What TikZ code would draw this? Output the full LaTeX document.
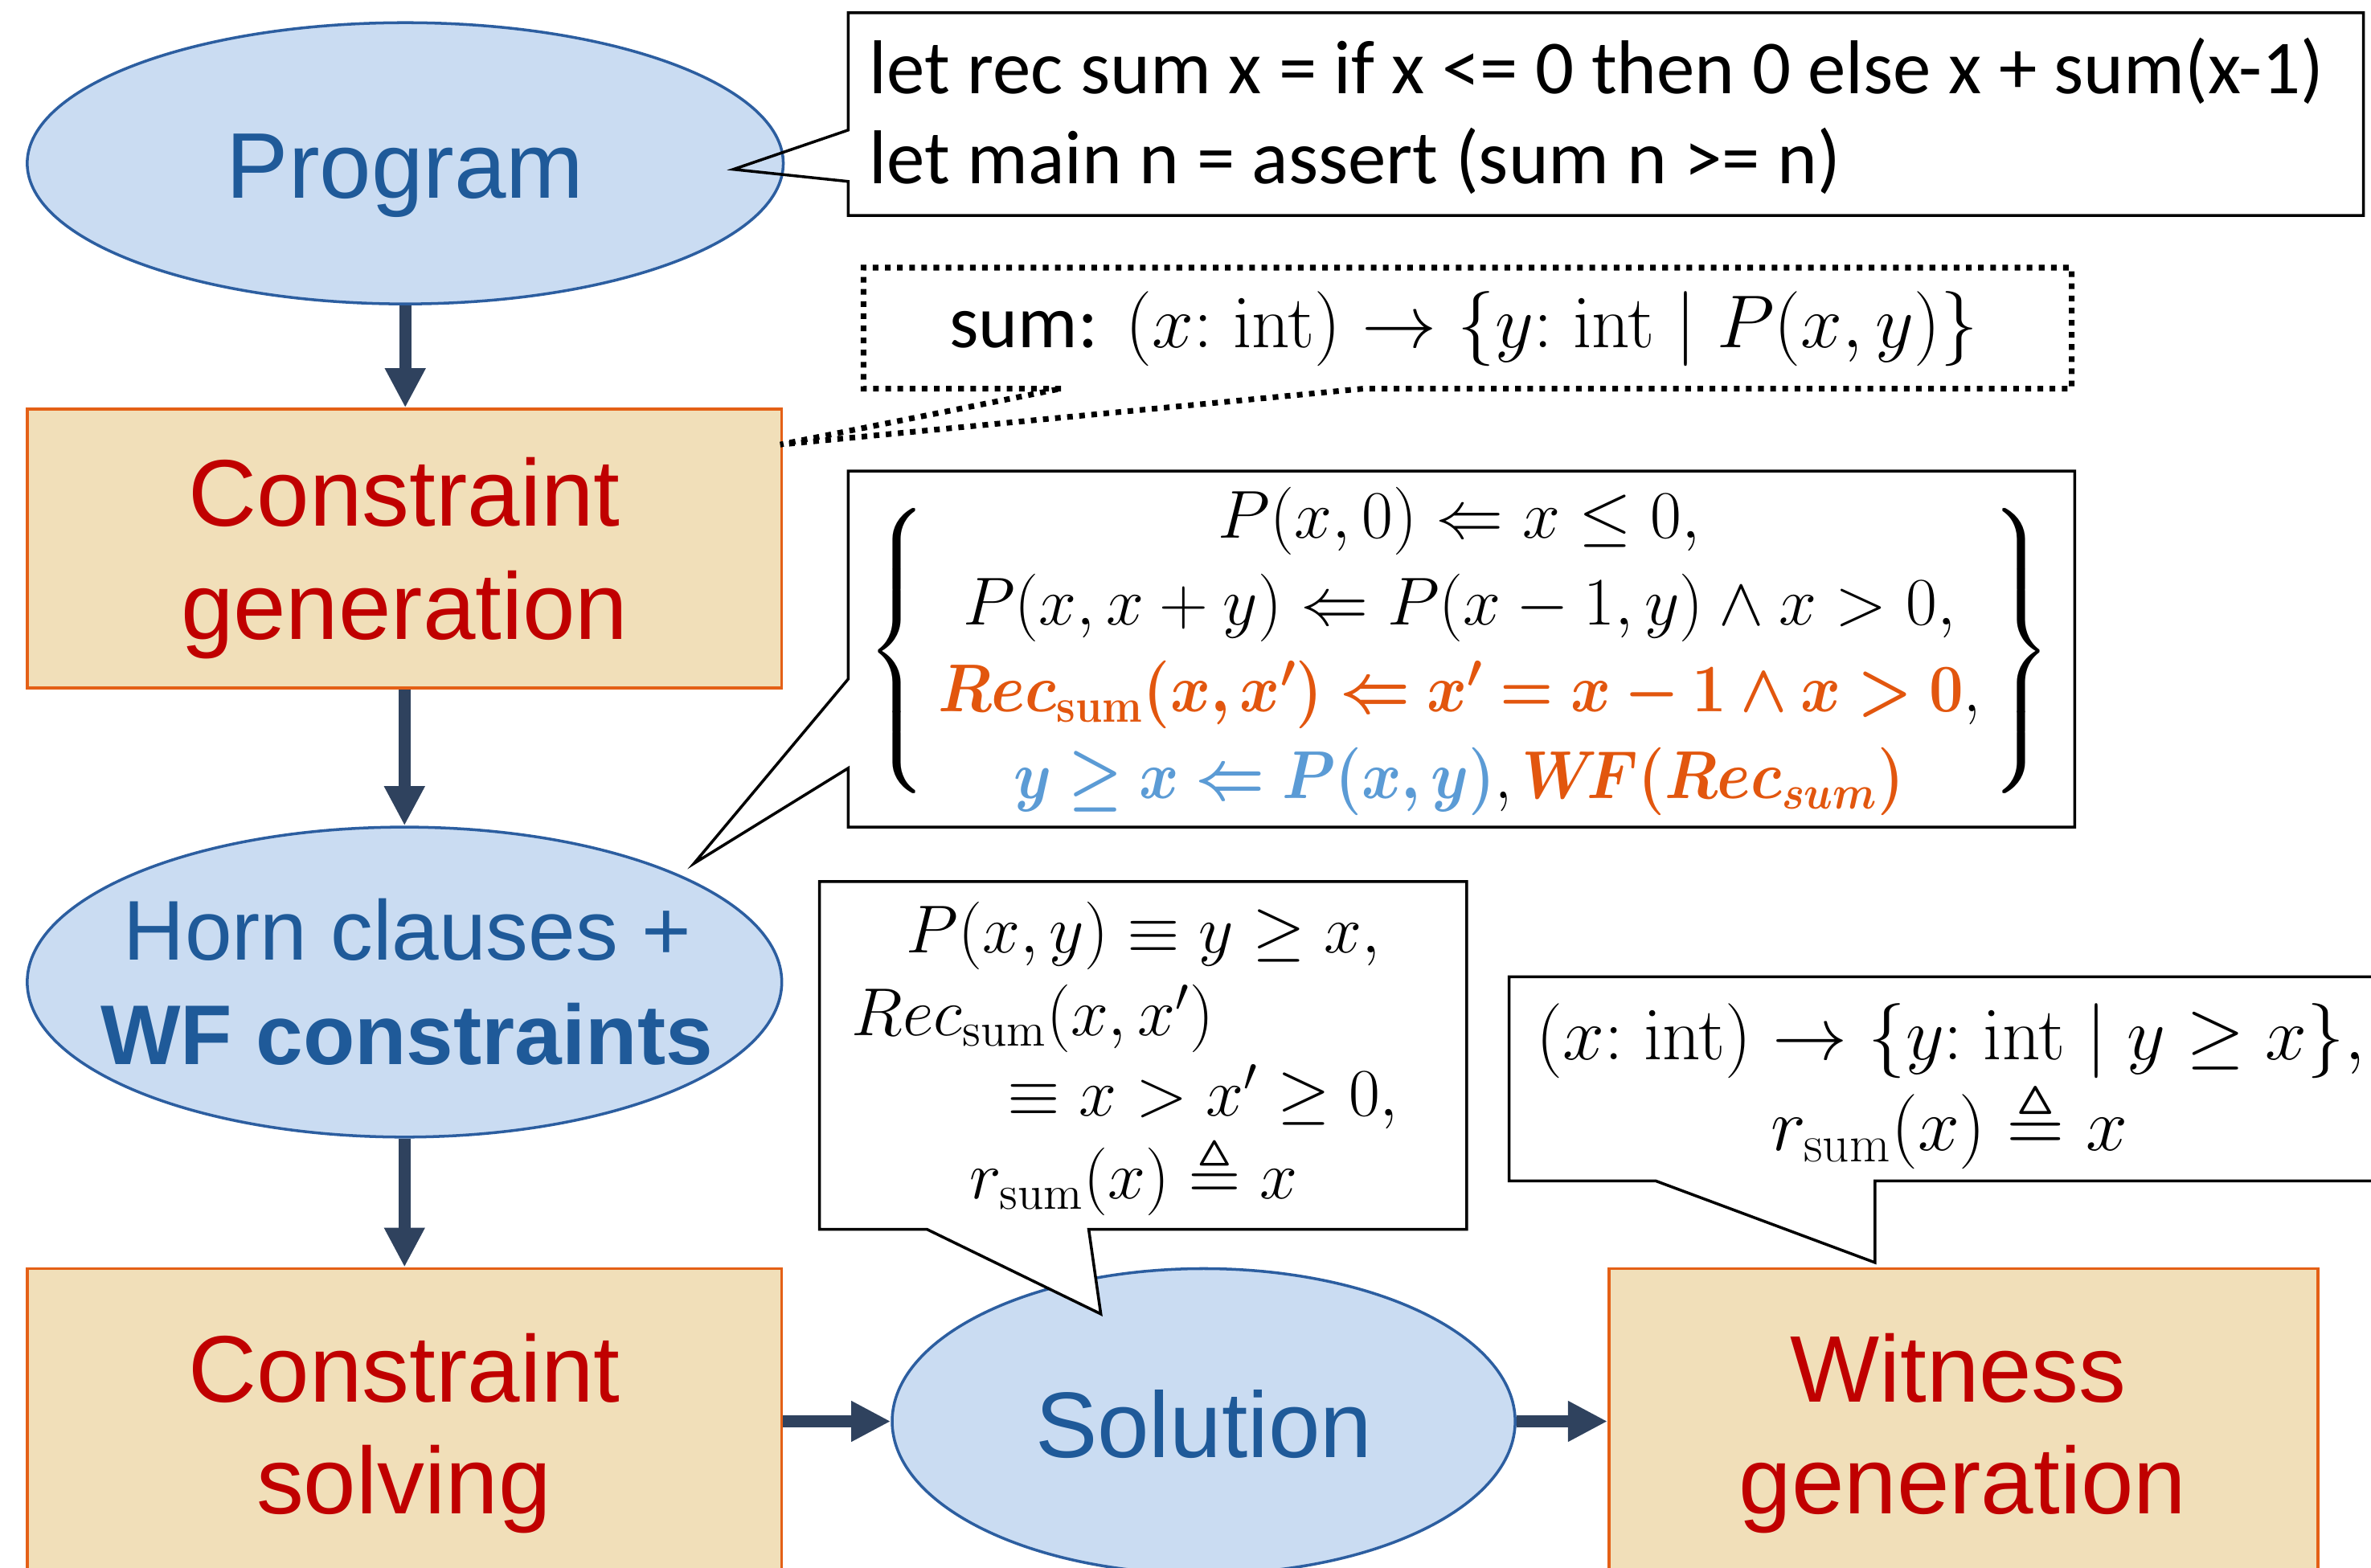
\RequirePackage{fix-cm}
\documentclass[tikz,border=0pt]{standalone}
\usepackage{amsmath,amssymb}
\usepackage{bm}
\usepackage{graphicx}
\usepackage[no-math]{fontspec}
\setmainfont{Liberation Sans}
\newfontfamily\calib{Carlito}
\usetikzlibrary{shapes.geometric,arrows.meta}
\definecolor{ellF}{RGB}{202,220,242}
\definecolor{ellB}{RGB}{44,94,160}
\definecolor{ellT}{RGB}{31,90,153}
\definecolor{boxF}{RGB}{241,223,185}
\definecolor{boxB}{RGB}{228,96,22}
\definecolor{boxT}{RGB}{192,0,0}
\definecolor{arrC}{RGB}{47,66,94}
\definecolor{orng}{RGB}{226,86,14}
\definecolor{blu}{RGB}{91,155,213}
\def\dpx{0.01881cm}
\newcommand\bracestrut{\vcenter{\hbox{\vrule height 51pt depth 51pt width 0pt}}}
\begin{document}
\begin{tikzpicture}[x=0.01881cm,y=-0.01881cm,
  ell/.style={ellipse,draw=ellB,fill=ellF,line width=1pt,inner sep=0pt},
  proc/.style={rectangle,draw=boxB,fill=boxF,line width=1pt,inner sep=0pt},
  flow/.style={draw=arrC,line width=4.3pt,-{Triangle[width=13.5pt,length=14pt]}},
  etext/.style={text=ellT,font=\fontsize{33}{40}\selectfont,anchor=base,inner sep=0pt},
  htext/.style={text=ellT,font=\fontsize{30}{36}\selectfont,anchor=base,inner sep=0pt},
  ptext/.style={text=boxT,font=\fontsize{33.5}{40}\selectfont,anchor=base,inner sep=0pt},
  callout/.style={draw=black,fill=white,line width=1pt,line join=miter},
  calloutnf/.style={draw=black,line width=1pt,line join=miter},
  dotline/.style={draw=black,line width=2pt,dash pattern=on 2pt off 2.3pt},
  mtext/.style={font=\fontsize{24}{30.8}\selectfont,inner sep=0pt},
  btext/.style={font=\fontsize{26.5}{32}\selectfont,inner sep=0pt},
  ctext/.style={font=\calib\fontsize{27}{32}\selectfont,inner sep=0pt,anchor=base west}]
\useasboundingbox (0,0) rectangle (1568,1037);
\clip (0,0) rectangle (1568,1037);
\fill[white] (0,0) rectangle (1568,1037);

% main flow shapes
\node[ell,minimum width=500*\dpx,minimum height=186*\dpx] (prog) at (268,108) {};
\node[proc,minimum width=499*\dpx,minimum height=184.4*\dpx] (cg) at (267.5,362.8) {};
\node[ell,minimum width=499*\dpx,minimum height=205*\dpx] (horn) at (267.5,649.5) {};
\node[proc,minimum width=499*\dpx,minimum height=202*\dpx] (cs) at (267.5,940) {};
\node[ell,minimum width=412*\dpx,minimum height=202*\dpx] (sol) at (796,940) {};
\node[proc,minimum width=469*\dpx,minimum height=202*\dpx] (wg) at (1298.5,940) {};

% labels
\node[etext] (progt) at (268,131) {Program};
\node[ptext] (cgt1) at (267.5,347.7) {Constraint};
\node[ptext] (cgt2) at (267.5,422.6) {generation};
\node[htext] (hornt1) at (269.5,635) {Horn clauses +};
\node[htext,font=\bfseries\fontsize{30}{36}\selectfont] (hornt2) at (269,704) {WF constraints};
\node[ptext] (cst1) at (267.5,927) {Constraint};
\node[ptext] (cst2) at (267,1001) {solving};
\node[etext] (solt) at (796,964) {Solution};
\node[ptext] (wgt1) at (1295,927) {Witness};
\node[ptext] (wgt2) at (1298,1001) {generation};

% flow arrows
\draw[flow] (prog.south) -- (prog.south |- cg.north);
\draw[flow] (cg.south) -- (cg.south |- horn.north);
\draw[flow] (horn.south) -- (horn.south |- cs.north);
\draw[flow] (cs.east) -- (sol.west);
\draw[flow] (sol.east) -- (wg.west);

% code callout
\coordinate (codetip) at (485,112);
\draw[calloutnf] (561,8.5) -- (1563,8.5) -- (1563,142.5) -- (561,142.5) -- (561,120) -- (codetip) -- (561,86) -- cycle;
\node[ctext] (code1) at (574.7,61.7) {let rec sum x = if x <= 0 then 0 else x + sum(x-1)};
\node[ctext] (code2) at (574.7,121.5) {let main n = assert (sum n >= n)};

% dotted type callout
\coordinate (dtip) at (516,294);
\draw[dotline] (701.7,257) -- (571,257) -- (571,177) -- (1370,177) -- (1370,257) -- (902,257) -- (dtip) -- cycle;
\node[btext,anchor=base] (sig) at (968,229.8) {{\calib sum:} $(x{:}\ \mathrm{int}) \rightarrow \{y{:}\ \mathrm{int} \mid P(x,y)\}$};

% horn clause callout
\coordinate (horntip) at (459,571);
\draw[callout] (561,311.5) -- (1372,311.5) -- (1372,547) -- (561,547) -- (561,508) -- (horntip) -- (561,449) -- cycle;
\node[mtext] (hc) at (965,430.5) {$\left\{\bracestrut\,\smash{\begin{array}{@{}c@{}}
P(x,0) \Leftarrow x \le 0,\\
P(x,x+y) \Leftarrow P(x-1,y) \wedge x > 0,\\
\scalebox{0.9}[1]{$\textcolor{orng}{\bm{Rec_{\mathbf{sum}}(x,x') \Leftarrow x' = x-1 \wedge x > 0}},$}\\
\scalebox{0.89}[1]{$\textcolor{blu}{\bm{y \ge x \Leftarrow P(x,y)}},\textcolor{orng}{\bm{W\!F(Rec_{sum})}}$}
\end{array}}\,\right\}$};

% solution callout
\coordinate (soltip) at (728,869);
\draw[callout] (542,583) -- (970,583) -- (970,813) -- (720,813) -- (soltip) -- (613,813) -- (542,813) -- cycle;
\node[mtext,anchor=base west] (s1) at (599,630) {$P(x,y) \equiv y \ge x,$};
\node[mtext,anchor=base west] (s2) at (563,685) {$Rec_{\mathrm{sum}}(x,x')$};
\node[mtext,anchor=base west] (s3) at (666,738) {$\equiv x > x' \ge 0,$};
\node[mtext,anchor=base west] (s4) at (641,793) {$r_{\mathrm{sum}}(x) \triangleq x$};

% witness callout
\coordinate (wtip) at (1240,835);
\draw[callout] (998,646) -- (1600,646) -- (1600,781) -- (1240,781) -- (wtip) -- (1095,781) -- (998,781) -- cycle;
\node[btext,anchor=base] (wt1) at (1290,701) {$(x{:}\ \mathrm{int}) \rightarrow \{y{:}\ \mathrm{int} \mid y \ge x\},$};
\node[btext,anchor=base] (wt2) at (1289,761) {$r_{\mathrm{sum}}(x) \triangleq x$};
\end{tikzpicture}
\end{document}
